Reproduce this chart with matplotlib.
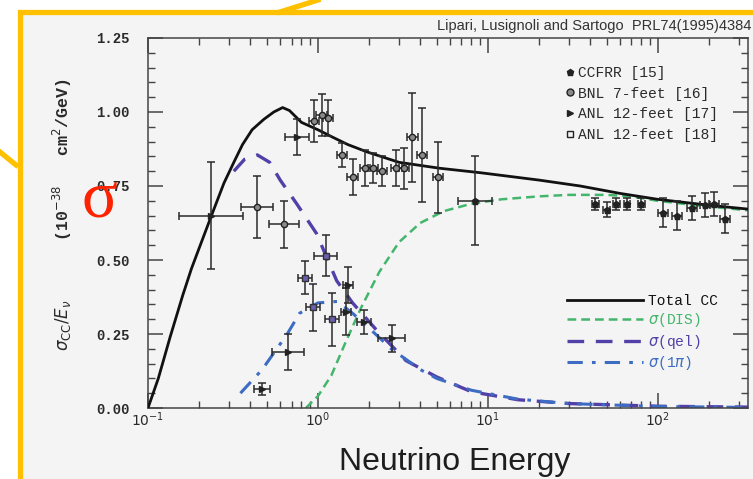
import numpy as np
import matplotlib
matplotlib.use("Agg")
import matplotlib.pyplot as plt
from matplotlib.patches import Rectangle
from matplotlib.lines import Line2D

# theory curves (E in GeV, sigma/E in 1e-38 cm^2/GeV)
tot_e = [0.1, 0.115, 0.135, 0.16, 0.18, 0.2, 0.24, 0.28, 0.32, 0.36, 0.41, 0.48, 0.55, 0.62, 0.68,
         0.8, 1.0, 1.22, 1.5, 1.95, 3.0, 5.2, 9, 20, 35, 60, 100, 200, 340]
tot_v = [0, 0.1, 0.24, 0.38, 0.47, 0.54, 0.66, 0.76, 0.83, 0.89, 0.94, 0.975, 1.0, 1.015, 1.005,
         0.965, 0.94, 0.915, 0.89, 0.865, 0.83, 0.81, 0.795, 0.77, 0.75, 0.725, 0.705, 0.685, 0.672]

dis_e = [0.85, 1.0, 1.2, 1.45, 1.8, 2.3, 3, 4, 5.5, 8, 12, 20, 30, 50, 70, 100, 200, 340]
dis_v = [0, 0.04, 0.11, 0.22, 0.34, 0.46, 0.56, 0.625, 0.665, 0.69, 0.705, 0.715, 0.72, 0.72,
         0.715, 0.70, 0.68, 0.668]

qel_e = [0.32, 0.37, 0.44, 0.52, 0.6, 0.75, 0.98, 1.29, 1.6, 2.2, 3.3, 5, 8, 15, 30, 100, 340]
qel_v = [0.80, 0.84, 0.855, 0.83, 0.77, 0.69, 0.59, 0.43, 0.355, 0.265, 0.16, 0.105, 0.055,
         0.028, 0.015, 0.006, 0.003]

pi_e = [0.35, 0.47, 0.66, 0.78, 1.0, 1.3, 1.6, 2.0, 2.7, 4, 5, 8, 15, 30, 100, 340]
pi_v = [0.05, 0.13, 0.25, 0.32, 0.355, 0.36, 0.32, 0.27, 0.2, 0.13, 0.1, 0.06, 0.03, 0.015,
        0.005, 0.002]

# data points
ccfrr_e = [8.4, 43, 50, 57, 66, 80, 107, 130, 160, 190, 215, 250]
ccfrr_v = [0.70, 0.69, 0.67, 0.69, 0.69, 0.69, 0.66, 0.65, 0.675, 0.685, 0.69, 0.64]
ccfrr_err = [0.15, 0.02, 0.025, 0.02, 0.02, 0.02, 0.05, 0.05, 0.04, 0.04, 0.04, 0.05]
ccfrr_dex = [0.1, 0.02, 0.02, 0.02, 0.02, 0.02, 0.03, 0.03, 0.03, 0.03, 0.03, 0.03]

bnl_e = [0.44, 0.63, 0.95, 1.05, 1.15, 1.39, 1.6, 1.89, 2.1, 2.38, 2.9, 3.2, 3.6, 4.1, 5.1]
bnl_v = [0.68, 0.62, 0.97, 0.99, 0.98, 0.855, 0.78, 0.81, 0.81, 0.80, 0.81, 0.81, 0.915,
         0.855, 0.78]
bnl_err = [0.105, 0.08, 0.07, 0.07, 0.06, 0.04, 0.06, 0.06, 0.05, 0.05, 0.06, 0.07, 0.15,
           0.16, 0.12]
bnl_dex = [0.094, 0.088, 0.03, 0.03, 0.03, 0.03, 0.03, 0.03, 0.03, 0.03, 0.03, 0.03, 0.03,
           0.03, 0.03]

anl17_e = [0.235, 0.75, 0.47, 0.67, 1.5, 1.47, 1.87, 2.72]
anl17_v = [0.65, 0.915, 0.065, 0.19, 0.415, 0.325, 0.29, 0.235]
anl17_err = [0.18, 0.06, 0.02, 0.06, 0.06, 0.08, 0.04, 0.045]
anl17_dex = [0.19, 0.07, 0.047, 0.094, 0.03, 0.03, 0.04, 0.08]

anl18_e = [0.84, 0.935, 1.11, 1.21]
anl18_v = [0.44, 0.34, 0.515, 0.30]
anl18_err = [0.055, 0.08, 0.07, 0.09]
anl18_dex = [0.04, 0.04, 0.07, 0.04]

W, H = 753, 479
fig = plt.figure(figsize=(W / 100, H / 100), dpi=100)
fig.patch.set_facecolor("white")

# slide frame
yellow = "#ffc000"
fig.add_artist(Rectangle((19.5 / W, -0.1), 1.2, 1 - 12.5 / H + 0.1, transform=fig.transFigure,
                         facecolor="#f4f4f4", edgecolor=yellow, lw=3.8, zorder=-5))
fig.add_artist(Line2D([280 / W, 318 / W], [1 - 12 / H, 1.0], transform=fig.transFigure,
                      color=yellow, lw=3.8, zorder=-4))
fig.add_artist(Line2D([0, 16 / W], [1 - 152 / H, 1 - 165 / H], transform=fig.transFigure,
                      color=yellow, lw=3.8, zorder=-4))

ax = fig.add_axes([148 / W, 71 / H, 600 / W, 370 / H])
ax.set_facecolor("none")
ax.set_xscale("log")
ax.set_xlim(0.1, 340)
ax.set_ylim(0, 1.25)

ink = "#2a2a2a"
l_dis, = ax.plot(dis_e, dis_v, color="#44b56c", lw=1.8, dashes=(3.5, 2), zorder=2)
l_qel, = ax.plot(qel_e, qel_v, color="#5240a8", lw=2.4, dashes=(5, 3.5), zorder=2)
l_pi, = ax.plot(pi_e, pi_v, color="#3d6cc2", lw=2.2, dashes=(5, 3, 1.2, 3), zorder=2)
l_tot, = ax.plot(tot_e, tot_v, color="#111111", lw=2.0, zorder=3)


def points(e, v, err, dex, **kw):
    e = np.array(e)
    f = 10 ** np.array(dex)
    xerr = [e - e / f, e * f - e]
    ax.errorbar(e, v, yerr=err, xerr=xerr, fmt="none", ecolor=ink, elinewidth=1.1,
                capsize=3, capthick=1.1, zorder=4)
    ax.plot(e, v, linestyle="none", zorder=5, **kw)


points(ccfrr_e, ccfrr_v, ccfrr_err, ccfrr_dex, marker="p", ms=4.5, color="#222")
points(bnl_e, bnl_v, bnl_err, bnl_dex, marker="o", ms=4.5, mfc="#8a8a8a", mec="#222")
points(anl17_e, anl17_v, anl17_err, anl17_dex, marker=">", ms=4.5, color="#222")
points(anl18_e, anl18_v, anl18_err, anl18_dex, marker="s", ms=4.5, mfc="#6a5fb0", mec="#333")

mono = "Liberation Mono"
leg2 = ax.legend([l_tot, l_dis, l_qel, l_pi], ["Total CC", r"$\sigma$(DIS)", r"$\sigma$(qel)",
                                              r"$\sigma$(1$\pi$)"],
                 loc="upper left", bbox_to_anchor=(0.682, 0.335), frameon=False,
                 prop={"family": mono, "size": 10.5}, handlelength=5.2,
                 labelspacing=0.22, handletextpad=0.35, labelcolor="linecolor",
                 borderpad=0.2)
ax.add_artist(leg2)

mk = [Line2D([], [], ls="none", marker="p", ms=5, color="#222"),
      Line2D([], [], ls="none", marker="o", ms=5, mfc="#8a8a8a", mec="#222"),
      Line2D([], [], ls="none", marker=">", ms=5, color="#222"),
      Line2D([], [], ls="none", marker="s", ms=4.5, mfc="none", mec="#222")]
ax.legend(mk, ["CCFRR [15]", "BNL 7-feet [16]", "ANL 12-feet [17]", "ANL 12-feet [18]"],
          loc="upper left", bbox_to_anchor=(0.68, 0.952), frameon=False,
          prop={"family": mono, "size": 10.5}, handlelength=0.5,
          handletextpad=0.3, labelspacing=0.45, labelcolor=ink, borderpad=0.2)

# ticks
ax.set_yticks([0, 0.25, 0.5, 0.75, 1.0, 1.25])
ax.set_yticklabels(["0.00", "0.25", "0.50", "0.75", "1.00", "1.25"])
ax.yaxis.set_minor_locator(matplotlib.ticker.MultipleLocator(0.05))
ax.set_xticks([0.1, 1, 10, 100])
ax.set_xticklabels([r"$10^{-1}$", r"$10^{0}$", r"$10^{1}$", r"$10^{2}$"])
ax.tick_params(which="both", direction="in", top=True, right=True, colors="#444",
               labelcolor=ink)
ax.tick_params(which="major", length=11, width=1.1)
ax.tick_params(which="minor", length=5, width=1.0)
ax.tick_params(axis="y", pad=13, labelsize=10)
ax.tick_params(axis="x", pad=2, labelsize=10)
for t in ax.get_yticklabels():
    t.set_family(mono)
    t.set_weight("bold")
for s in ax.spines.values():
    s.set_color("#444")
    s.set_linewidth(1.1)

fig.text(62 / W, 1 - 215 / H,
         r"$\sigma_{\rm CC}/E_{\nu}$      (10$^{-38}$   cm$^{2}$/GeV)",
         rotation=90, ha="center", va="center", family=mono, size=12, weight="bold", color=ink)
fig.text(455 / W, 1 - 462 / H, "Neutrino Energy", ha="center", va="center",
         family="Liberation Sans", size=23, color="#1e1e1e")
fig.text(751 / W, 1 - 26 / H, "Lipari, Lusignoli and Sartogo  PRL74(1995)4384", ha="right",
         va="center", family="Liberation Sans", size=10.5, color="#333")
fig.text(99 / W, 1 - 200 / H, "σ", ha="center", va="center", family="Liberation Serif",
         size=48, color="#ff2200")

fig.savefig("out.png", dpi=100)
